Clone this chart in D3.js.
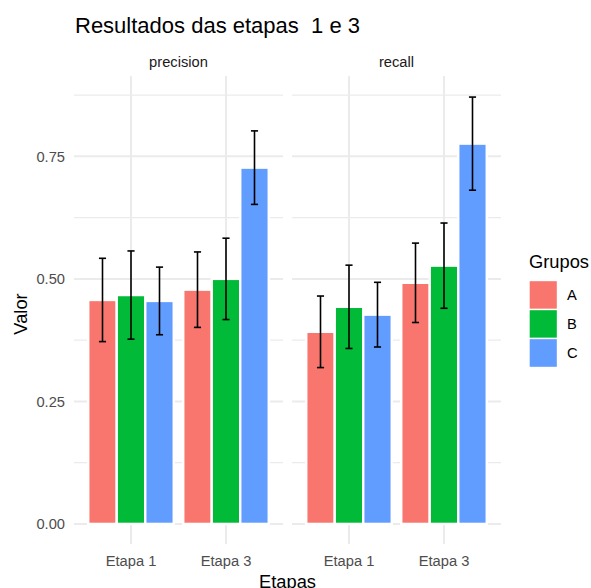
<!DOCTYPE html>
<html>
<head>
<meta charset="utf-8">
<script src="https://cdn.jsdelivr.net/npm/d3@7"></script>
<style>
  body { margin: 0; background: #fff; }
  svg { display: block; font-family: "Liberation Sans", Arial, sans-serif; }
</style>
</head>
<body>
<div id="chart"></div>
<script>
// data
const panels = ["precision", "recall"];
const etapas = ["Etapa 1", "Etapa 3"];
const grupos = ["A", "B", "C"];
// order: Etapa 1 (A, B, C), Etapa 3 (A, B, C)
const precisionValues = [0.457, 0.467, 0.455, 0.478, 0.500, 0.727];
const precisionErrors = [0.085, 0.090, 0.069, 0.077, 0.083, 0.075];
const recallValues = [0.392, 0.443, 0.427, 0.492, 0.527, 0.776];
const recallErrors = [0.073, 0.085, 0.066, 0.081, 0.087, 0.095];
const yTicks = [0, 0.25, 0.5, 0.75];
const yMinorTicks = [0.125, 0.375, 0.625, 0.875];
const colors = ["#F8766D", "#00BA38", "#619CFF"];

const width = 591, height = 588;
const panelTop = 76, panelBottom = 544;
const panelX = [[74, 283], [292, 501]];
const dodge = 0.9;
const capWidth = 0.075;

const seriesByPanel = {
  precision: { values: precisionValues, errors: precisionErrors },
  recall: { values: recallValues, errors: recallErrors }
};

const svg = d3.select("#chart").append("svg")
  .attr("width", width)
  .attr("height", height);

const y = d3.scaleLinear()
  .domain([-0.041, 0.914])
  .range([panelBottom, panelTop]);

const color = d3.scaleOrdinal().domain(grupos).range(colors);

panels.forEach(function(panel, p) {
  const x = d3.scaleLinear()
    .domain([0.4, etapas.length + 0.6])
    .range(panelX[p]);
  const g = svg.append("g").attr("class", "panel");

  // grid
  g.selectAll(".minor").data(yMinorTicks).enter().append("line")
    .attr("x1", panelX[p][0]).attr("x2", panelX[p][1])
    .attr("y1", d => y(d)).attr("y2", d => y(d))
    .style("stroke", "#ebebeb").style("stroke-width", 1.1);
  g.selectAll(".major").data(yTicks).enter().append("line")
    .attr("x1", panelX[p][0]).attr("x2", panelX[p][1])
    .attr("y1", d => y(d)).attr("y2", d => y(d))
    .style("stroke", "#ebebeb").style("stroke-width", 2);
  g.selectAll(".vgrid").data(etapas).enter().append("line")
    .attr("x1", (d, i) => x(i + 1)).attr("x2", (d, i) => x(i + 1))
    .attr("y1", panelTop).attr("y2", panelBottom)
    .style("stroke", "#ebebeb").style("stroke-width", 2);

  // rows for bars
  const s = seriesByPanel[panel];
  const rows = [];
  etapas.forEach(function(et, i) {
    grupos.forEach(function(gr, j) {
      const k = i * grupos.length + j;
      const slot = dodge / grupos.length;
      const cx = (i + 1) - dodge / 2 + slot * (j + 0.5);
      rows.push({ etapa: et, grupo: gr, value: s.values[k], err: s.errors[k], cx: cx, slot: slot });
    });
  });

  g.selectAll(".bar").data(rows).enter().append("rect")
    .attr("x", d => x(d.cx - d.slot / 2))
    .attr("width", d => x(d.cx + d.slot / 2) - x(d.cx - d.slot / 2))
    .attr("y", d => y(d.value))
    .attr("height", d => y(0) - y(d.value))
    .style("fill", d => color(d.grupo))
    .style("stroke", "#fff")
    .style("stroke-width", 2.4);

  const eb = g.selectAll(".err").data(rows).enter().append("g")
    .style("stroke", "#000").style("stroke-width", 1.6);
  eb.append("line")
    .attr("x1", d => x(d.cx)).attr("x2", d => x(d.cx))
    .attr("y1", d => y(d.value + d.err)).attr("y2", d => y(d.value - d.err));
  eb.append("line")
    .attr("x1", d => x(d.cx - capWidth / 2)).attr("x2", d => x(d.cx + capWidth / 2))
    .attr("y1", d => y(d.value + d.err)).attr("y2", d => y(d.value + d.err));
  eb.append("line")
    .attr("x1", d => x(d.cx - capWidth / 2)).attr("x2", d => x(d.cx + capWidth / 2))
    .attr("y1", d => y(d.value - d.err)).attr("y2", d => y(d.value - d.err));

  // strip label
  svg.append("text")
    .attr("x", (panelX[p][0] + panelX[p][1]) / 2)
    .attr("y", 66.5)
    .attr("text-anchor", "middle")
    .style("font-size", "14.7px")
    .style("fill", "#1a1a1a")
    .text(panel);

  // x tick labels
  svg.selectAll(null).data(etapas).enter().append("text")
    .attr("x", (d, i) => x(i + 1))
    .attr("y", 565.5)
    .attr("text-anchor", "middle")
    .style("font-size", "14.7px")
    .style("fill", "#4d4d4d")
    .text(d => d);
});

// y tick labels
svg.selectAll(".ytick").data(yTicks).enter().append("text")
  .attr("x", 65)
  .attr("y", d => y(d))
  .attr("dy", "0.35em")
  .attr("text-anchor", "end")
  .style("font-size", "14.7px")
  .style("fill", "#4d4d4d")
  .text(d => d3.format(".2f")(d));

// titles
svg.append("text")
  .attr("x", 75).attr("y", 32.7)
  .style("font-size", "22px")
  .style("fill", "#000")
  .text("Resultados das etapas  1 e 3")
  .attr("xml:space", "preserve")
  .style("white-space", "pre");

svg.append("text")
  .attr("x", (panelX[0][0] + panelX[1][1]) / 2).attr("y", 588)
  .attr("text-anchor", "middle")
  .style("font-size", "18.3px")
  .text("Etapas");

svg.append("text")
  .attr("transform", "translate(27," + 314 + ") rotate(-90)")
  .attr("text-anchor", "middle")
  .style("font-size", "18.3px")
  .text("Valor");

// legend
const legend = svg.append("g").attr("transform", "translate(529,0)");
legend.append("text")
  .attr("x", 0).attr("y", 267.7)
  .style("font-size", "18.3px")
  .text("Grupos");
const keys = legend.selectAll(".key").data(grupos).enter().append("g")
  .attr("transform", (d, i) => "translate(0," + (280.5 + i * 29) + ")");
keys.append("rect")
  .attr("width", 28.5).attr("height", 29)
  .style("fill", d => color(d))
  .style("stroke", "#fff").style("stroke-width", 1.4);
keys.append("text")
  .attr("x", 38).attr("y", 14.5)
  .attr("dy", "0.35em")
  .style("font-size", "14.7px")
  .text(d => d);
</script>
</body>
</html>
